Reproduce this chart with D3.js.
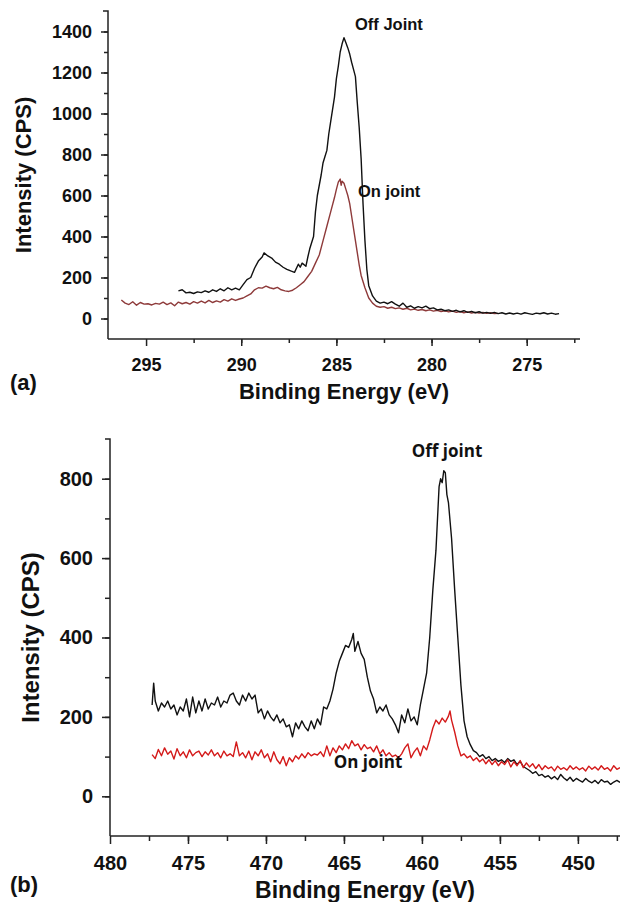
<!DOCTYPE html>
<html>
<head>
<meta charset="utf-8">
<script src="https://cdn.jsdelivr.net/npm/d3@7"></script>
<style>
  body { margin: 0; background: #fff; }
  text { font-family: "Liberation Sans", Arial, sans-serif; font-weight: bold; fill: #111; }
</style>
</head>
<body>
<svg id="chart" width="620" height="902"></svg>
<script>
// panel (a): C 1s region, [binding energy, counts]
let offJointA = [
 [293.3,135],[293.1,140],[292.9,125],[292.7,128],[292.5,122],[292.3,130],[292.1,126],[291.9,135],[291.7,128],[291.5,140],
 [291.3,132],[291.1,145],[290.9,135],[290.7,150],[290.5,140],[290.3,148],[290.1,140],[289.9,165],[289.7,190],[289.5,200],
 [289.3,245],[289.1,280],[288.9,300],[288.8,320],[288.6,305],[288.4,295],[288.2,275],[288.0,265],[287.8,250],[287.6,240],
 [287.4,232],[287.2,225],[287.0,265],[286.9,250],[286.8,270],[286.6,255],[286.5,300],[286.4,340],[286.2,400],[286.1,520],
 [286.0,600],[285.8,700],[285.7,760],[285.6,790],[285.5,820],[285.4,900],[285.3,960],[285.2,1020],[285.1,1080],[285.0,1170],
 [284.9,1230],[284.8,1300],[284.7,1340],[284.6,1370],[284.5,1345],[284.4,1320],[284.3,1290],[284.2,1250],[284.1,1215],[284.0,1180],
 [283.9,1050],[283.8,930],[283.7,780],[283.6,560],[283.5,380],[283.4,240],[283.3,160],[283.1,110],[282.9,85],[282.7,75],
 [282.5,80],[282.3,72],[282.1,82],[281.9,70],[281.7,60],[281.5,75],[281.3,55],[281.1,62],[280.9,50],[280.7,58],
 [280.5,52],[280.3,60],[280.1,48],[279.9,52],[279.7,42],[279.5,45],[279.3,38],[279.1,42],[278.9,35],[278.7,40],
 [278.5,32],[278.3,38],[278.1,30],[277.9,35],[277.7,28],[277.5,33],[277.3,26],[277.1,30],[276.9,25],[276.7,30],
 [276.5,24],[276.3,28],[276.1,22],[275.9,27],[275.7,22],[275.5,26],[275.3,21],[275.1,28],[274.9,24],[274.7,20],
 [274.5,26],[274.3,23],[274.1,28],[273.9,22],[273.7,26],[273.5,21],[273.3,24]
];
let onJointA = [
 [296.3,90],[296.1,75],[295.9,68],[295.7,82],[295.5,65],[295.3,78],[295.1,70],[294.9,72],[294.7,66],[294.5,74],
 [294.3,70],[294.1,80],[293.9,68],[293.7,76],[293.5,62],[293.3,80],[293.1,72],[292.9,78],[292.7,70],[292.5,82],
 [292.3,75],[292.1,85],[291.9,76],[291.7,88],[291.5,78],[291.3,86],[291.1,80],[290.9,92],[290.7,85],[290.5,96],
 [290.3,88],[290.1,95],[289.9,100],[289.7,110],[289.5,120],[289.3,140],[289.1,150],[288.9,148],[288.7,158],[288.5,150],
 [288.3,145],[288.1,152],[287.9,140],[287.7,135],[287.5,132],[287.3,138],[287.1,150],[286.9,165],[286.7,180],[286.5,205],
 [286.3,230],[286.1,270],[285.9,310],[285.7,380],[285.5,450],[285.3,520],[285.1,590],[285.0,630],[284.9,665],[284.8,680],
 [284.75,650],[284.7,670],[284.6,660],[284.5,630],[284.4,600],[284.3,560],[284.2,500],[284.1,440],[284.0,380],[283.9,320],
 [283.8,260],[283.7,210],[283.5,150],[283.3,100],[283.1,75],[282.9,60],[282.7,55],[282.5,58],[282.3,50],[282.1,55],
 [281.9,48],[281.7,52],[281.5,45],[281.3,50],[281.1,42],[280.9,46],[280.7,40],[280.5,44],[280.3,38],[280.1,42],
 [279.9,36],[279.7,40],[279.5,34],[279.3,38],[279.1,32],[278.9,36],[278.7,30],[278.5,34],[278.3,28],[278.1,32],
 [277.9,27],[277.7,30],[277.5,26],[277.3,29],[277.1,25],[276.9,28],[276.7,24],[276.5,25]
];

// panel (b): Ti 2p region
let offJointB = [
 [477.3,230],[477.2,285],[477.1,240],[476.9,215],[476.7,235],[476.5,225],[476.3,240],[476.1,220],[475.9,230],[475.7,205],
 [475.5,225],[475.3,215],[475.1,245],[474.9,200],[474.7,250],[474.5,210],[474.3,240],[474.1,215],[473.9,245],[473.7,220],
 [473.5,235],[473.3,230],[473.1,250],[472.9,225],[472.7,240],[472.5,235],[472.3,255],[472.1,260],[471.9,240],[471.7,230],
 [471.5,255],[471.3,240],[471.1,260],[470.9,245],[470.7,255],[470.5,210],[470.3,220],[470.1,195],[469.9,215],[469.7,200],
 [469.5,190],[469.3,205],[469.1,185],[468.9,195],[468.7,175],[468.5,180],[468.3,150],[468.1,185],[467.9,170],[467.7,190],
 [467.5,175],[467.3,165],[467.1,190],[466.9,170],[466.7,195],[466.5,180],[466.3,225],[466.1,220],[465.9,240],[465.7,270],
 [465.5,310],[465.3,340],[465.1,360],[464.9,380],[464.7,375],[464.5,395],[464.4,410],[464.3,365],[464.1,390],[463.9,360],
 [463.7,345],[463.5,300],[463.3,265],[463.1,245],[462.9,210],[462.7,225],[462.5,215],[462.3,230],[462.1,205],[461.9,195],
 [461.7,180],[461.5,160],[461.3,205],[461.1,185],[460.9,220],[460.7,190],[460.5,200],[460.3,180],[460.1,230],[459.9,270],
 [459.7,310],[459.5,400],[459.3,520],[459.1,620],[458.9,780],[458.8,800],[458.7,790],[458.6,820],[458.5,815],[458.4,760],
 [458.3,740],[458.1,650],[457.9,520],[457.7,400],[457.5,280],[457.3,190],[457.1,150],[456.9,130],[456.7,115],[456.5,110],
 [456.3,100],[456.1,105],[455.9,95],[455.7,100],[455.5,90],[455.3,95],[455.1,88],[454.9,92],[454.7,85],[454.5,95],
 [454.3,88],[454.1,92],[453.9,80],[453.7,88],[453.5,75],[453.3,70],[453.1,65],[452.9,58],[452.7,62],[452.5,52],
 [452.3,55],[452.1,48],[451.9,52],[451.7,44],[451.5,50],[451.3,42],[451.1,55],[450.9,46],[450.7,40],[450.5,48],
 [450.3,38],[450.1,45],[449.9,40],[449.7,36],[449.5,45],[449.3,38],[449.1,34],[448.9,40],[448.7,32],[448.5,42],
 [448.3,36],[448.1,38],[447.9,30],[447.7,36],[447.5,40],[447.3,35]
];
let onJointB = [
 [477.3,105],[477.1,95],[476.9,118],[476.7,102],[476.5,122],[476.3,106],[476.1,114],[475.9,94],[475.7,120],[475.5,102],
 [475.3,112],[475.1,97],[474.9,117],[474.7,102],[474.5,110],[474.3,114],[474.1,100],[473.9,112],[473.7,104],[473.5,117],
 [473.3,102],[473.1,110],[472.9,97],[472.7,114],[472.5,102],[472.3,107],[472.1,100],[471.9,137],[471.7,102],[471.5,110],
 [471.3,97],[471.1,114],[470.9,92],[470.7,112],[470.5,102],[470.3,117],[470.1,97],[469.9,107],[469.7,87],[469.5,112],
 [469.3,92],[469.1,82],[468.9,100],[468.7,77],[468.5,97],[468.3,87],[468.1,102],[467.9,94],[467.7,107],[467.5,97],
 [467.3,110],[467.1,102],[466.9,107],[466.7,104],[466.5,112],[466.3,100],[466.1,127],[465.9,102],[465.7,122],[465.5,110],
 [465.3,127],[465.1,117],[464.9,132],[464.7,120],[464.5,140],[464.3,127],[464.1,132],[463.9,117],[463.7,130],[463.5,120],
 [463.3,124],[463.1,112],[462.9,127],[462.7,107],[462.5,117],[462.3,102],[462.1,110],[461.9,100],[461.7,104],[461.5,97],
 [461.3,107],[461.1,122],[460.9,132],[460.7,97],[460.5,112],[460.3,122],[460.1,102],[459.9,127],[459.7,117],[459.5,142],
 [459.3,172],[459.1,192],[458.9,182],[458.7,197],[458.5,187],[458.3,202],[458.2,215],[458.1,192],[457.9,162],[457.7,127],
 [457.5,102],[457.3,107],[457.1,97],[456.9,102],[456.7,90],[456.5,97],[456.3,87],[456.1,94],[455.9,82],[455.7,92],
 [455.5,80],[455.3,90],[455.1,77],[454.9,87],[454.7,80],[454.5,92],[454.3,74],[454.1,87],[453.9,77],[453.7,90],
 [453.5,72],[453.3,84],[453.1,74],[452.9,82],[452.7,70],[452.5,80],[452.3,67],[452.1,77],[451.9,70],[451.7,74],
 [451.5,64],[451.3,76],[451.1,68],[450.9,72],[450.7,66],[450.5,77],[450.3,68],[450.1,74],[449.9,67],[449.7,72],
 [449.5,64],[449.3,76],[449.1,68],[448.9,74],[448.7,66],[448.5,77],[448.3,68],[448.1,72],[447.9,64],[447.7,77],
 [447.5,68],[447.3,72]
];

let xTicksA = [295, 290, 285, 280, 275];
let yTicksA = [0, 200, 400, 600, 800, 1000, 1200, 1400];
let xTicksB = [480, 475, 470, 465, 460, 455, 450];
let yTicksB = [0, 200, 400, 600, 800];

let svg = d3.select("#chart");

function drawPanel(p) {
	let g = svg.append("g");
	let x = d3.scaleLinear().domain(p.xDomain).range([p.left, p.right]);
	let y = d3.scaleLinear().domain(p.yDomain).range([p.bottom, p.top]);

	// minor ticks first, then major ticks with labels
	let xMinor = d3.range(p.xMinorStart, p.xDomain[1] - 0.01, -p.xStep / 2);
	let yMinor = d3.range(p.yDomain[0] + 100, p.yDomain[1], 100);

	g.append("g")
		.attr("transform", "translate(0," + p.bottom + ")")
		.call(d3.axisBottom(x).tickValues(xMinor).tickSize(p.minor).tickFormat(""))
		.call(a => a.select(".domain").remove());
	g.append("g")
		.attr("transform", "translate(" + p.left + ",0)")
		.call(d3.axisLeft(y).tickValues(yMinor).tickSize(p.minor).tickFormat(""))
		.call(a => a.select(".domain").remove());

	let xa = g.append("g")
		.attr("transform", "translate(0," + p.bottom + ")")
		.call(d3.axisBottom(x).tickValues(p.xTicks).tickSize(p.major).tickSizeOuter(0).tickPadding(p.xPad).tickFormat(d3.format("d")));
	xa.select(".domain").attr("d", "M" + p.left + ",0H" + p.right);
	let ya = g.append("g")
		.attr("transform", "translate(" + p.left + ",0)")
		.call(d3.axisLeft(y).tickValues(p.yTicks).tickSize(p.major).tickSizeOuter(0).tickPadding(p.yPad).tickFormat(d3.format("d")));
	ya.select(".domain").attr("d", "M0," + p.bottom + "V" + p.top + "h-5");

	g.selectAll(".tick line, .domain").attr("stroke", "#222").attr("stroke-width", 1.5);
	g.selectAll(".tick text")
		.attr("font-size", p.tickFont)
		.attr("font-family", "Liberation Sans, Arial, sans-serif")
		.attr("font-weight", "bold")
		.attr("fill", "#111");

	let line = d3.line().x(d => x(d[0])).y(d => y(d[1]));
	p.series.forEach(s => {
		g.append("path")
			.datum(s.data)
			.attr("fill", "none")
			.attr("stroke", s.color)
			.attr("stroke-width", 1.4)
			.attr("stroke-linejoin", "round")
			.attr("d", line);
	});

	p.notes.forEach(n => {
		g.append("text")
			.attr("x", n.x)
			.attr("y", n.y)
			.attr("text-anchor", n.anchor || "start")
			.attr("font-size", n.size)
			.style("font-family", n.family)
			.text(n.text);
	});

	g.append("text")
		.attr("x", (p.left + p.right) / 2)
		.attr("y", p.titleY)
		.attr("text-anchor", "middle")
		.attr("font-size", p.titleFont)
		.text("Binding Energy (eV)");
	g.append("text")
		.attr("transform", "translate(" + p.yTitleX + "," + (p.top + p.bottom) / 2 + ") rotate(-90)")
		.attr("text-anchor", "middle")
		.attr("font-size", p.yTitleFont)
		.text("Intensity (CPS)");
	g.append("text")
		.attr("x", 10)
		.attr("y", p.tagY)
		.attr("font-size", 22)
		.text(p.tag);
}

drawPanel({
	xDomain: [297, 272.2], yDomain: [-100, 1500],
	left: 108, right: 580, top: 11, bottom: 339,
	xTicks: xTicksA, yTicks: yTicksA, xStep: 5, xMinorStart: 292.5,
	major: 7, minor: 4, xPad: 12, yPad: 9, tickFont: 18, titleFont: 22, yTitleFont: 22,
	yTitleX: 31, titleY: 399, tag: "(a)", tagY: 390,
	series: [
		{ data: onJointA, color: "#8e3a3a" },
		{ data: offJointA, color: "#111" }
	],
	notes: [
		{ text: "Off Joint", x: 355, y: 30, size: 16.5, family: "Liberation Sans, Arial, sans-serif" },
		{ text: "On joint", x: 358, y: 197, size: 16.5, family: "Liberation Sans, Arial, sans-serif" }
	]
});

drawPanel({
	xDomain: [480, 447.3], yDomain: [-100, 900],
	left: 110, right: 620, top: 439, bottom: 836,
	xTicks: xTicksB, yTicks: yTicksB, xStep: 5, xMinorStart: 477.5,
	major: 8, minor: 5, xPad: 12, yPad: 9, tickFont: 20, titleFont: 23, yTitleFont: 24,
	yTitleX: 39, titleY: 898, tag: "(b)", tagY: 892,
	series: [
		{ data: offJointB, color: "#111" },
		{ data: onJointB, color: "#d41a1a" }
	],
	notes: [
		{ text: "Off joint", x: 447, y: 457, size: 17, anchor: "middle", family: "Open Sans, sans-serif" },
		{ text: "On joint", x: 368, y: 768, size: 17, anchor: "middle", family: "Open Sans, sans-serif" }
	]
});
</script>
</body>
</html>
